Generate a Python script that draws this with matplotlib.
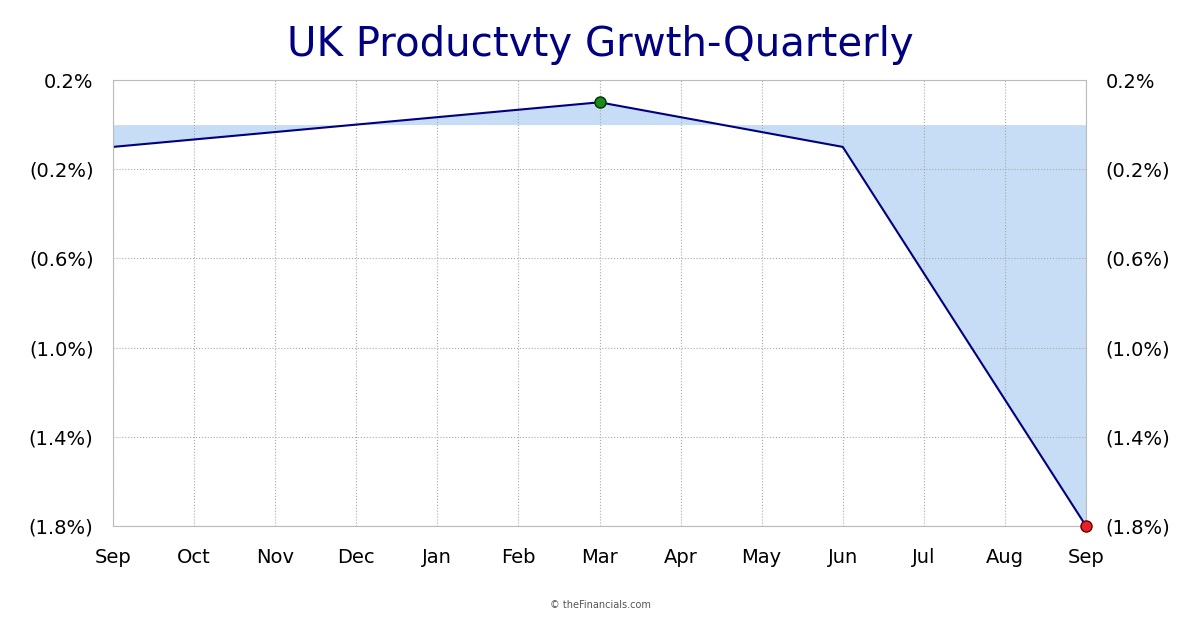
import matplotlib.pyplot as plt
import numpy as np

# Monatsachse und Quartalswerte
months = ['Sep', 'Oct', 'Nov', 'Dec', 'Jan', 'Feb', 'Mar', 'Apr', 'May', 'Jun', 'Jul', 'Aug', 'Sep']
q_idx = [0, 3, 6, 9, 12]
q_vals = [-0.1, 0.0, 0.1, -0.1, -1.8]
yticks = [0.2, -0.2, -0.6, -1.0, -1.4, -1.8]
ylabels = ['0.2%', '(0.2%)', '(0.6%)', '(1.0%)', '(1.4%)', '(1.8%)']

fig = plt.figure(figsize=(12, 6.3), dpi=100)
ax = fig.add_axes([113/1200, 1-526/630, (1086-113)/1200, (526-80)/630])

x = np.array(q_idx)
y = np.array(q_vals)
ax.fill_between(x, y, 0, color='#c6ddf5', linewidth=0)
ax.plot(x, y, color='#000080', lw=1.5)
imax = int(np.argmax(y)); imin = int(np.argmin(y))
ax.plot(x[imax], y[imax], 'o', color='#1a8a1a', mec='#003300', ms=8, zorder=5)
ax.plot(x[imin], y[imin], 'o', color='#e8202a', mec='#660000', ms=8, zorder=5, clip_on=False)

ax.set_xlim(0, 12)
ax.set_ylim(-1.8, 0.2)
ax.set_xticks(range(13))
ax.set_xticklabels(months, fontsize=14)
ax.set_yticks(yticks)
ax.set_yticklabels(ylabels, fontsize=14)
ax.tick_params(axis='y', labelright=True, length=0, pad=14)
ax.tick_params(axis='x', length=0, pad=16)
ax.grid(True, color='#aaaaaa', linestyle=':', linewidth=0.8)
for s in ax.spines.values():
    s.set_color('#bbbbbb')
    s.set_linewidth(0.8)

fig.text(0.5, 0.928, 'UK Productvty Grwth-Quarterly', ha='center', va='center',
         fontsize=29, color='#000080')
fig.text(0.5, 0.04, '© theFinancials.com', ha='center', va='center', fontsize=7, color='#555555')

fig.savefig('out.png', dpi=100)
